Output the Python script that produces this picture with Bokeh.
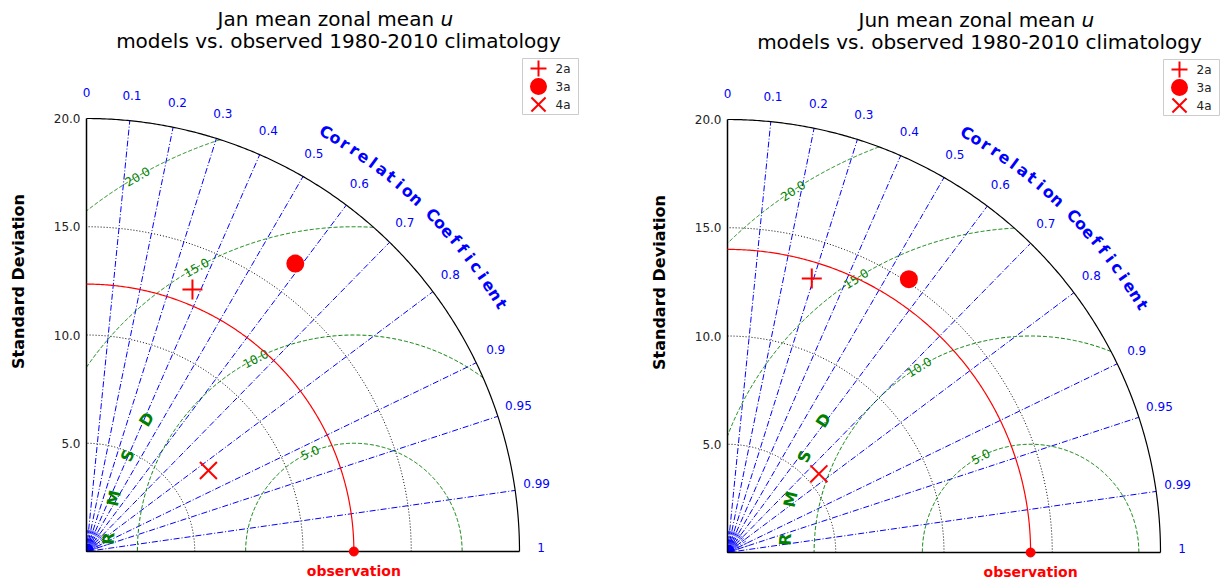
import numpy as np
from bokeh.plotting import figure
from bokeh.layouts import row
from bokeh.models import Range1d
from bokeh.core.properties import value
from bokeh.embed import file_html
from bokeh.resources import INLINE

# ---------------- data ----------------
months = ["Jan", "Jun"]
model_names = ["2a", "3a", "4a"]
model_markers = ["cross", "circle", "x"]
obs_std = [12.35, 14.0]
model_std_jan = [13.05, 16.43, 6.76]
model_corr_jan = [0.375, 0.587, 0.833]
model_std_jun = [13.24, 15.15, 5.57]
model_corr_jun = [0.294, 0.553, 0.758]
corr_ticks = [0.0, 0.1, 0.2, 0.3, 0.4, 0.5, 0.6, 0.7, 0.8, 0.9, 0.95, 0.99, 1.0]
corr_tick_labels = ["0", "0.1", "0.2", "0.3", "0.4", "0.5", "0.6", "0.7", "0.8",
                    "0.9", "0.95", "0.99", "1"]
std_ticks = [5.0, 10.0, 15.0, 20.0]
std_tick_labels = ["5.0", "10.0", "15.0", "20.0"]
rmsd_levels = [5.0, 10.0, 15.0, 20.0]
rmsd_level_labels = ["5.0", "10.0", "15.0", "20.0"]
std_max = 20.0

FONT = value("DejaVu Sans")
S = 433.0 / 20.0   # pixels per unit
H = 581
BLUE = "#0000ff"
GREEN = "#008000"
RED = "#ff0000"


def panel(month, width, ox, oy, s_obs, stds, corrs, label_angles):
    def X(px):
        return (px - ox) / S

    def Y(py):
        return (oy - py) / S

    p = figure(width=width, height=H, x_range=Range1d(X(0), X(width)),
               y_range=Range1d(Y(H), Y(0)), output_backend="svg",
               toolbar_location=None, x_axis_type=None, y_axis_type=None,
               min_border=0, outline_line_color=None)
    p.background_fill_color = "white"
    p.border_fill_color = "white"

    th = np.linspace(0, np.pi / 2, 300)

    # dense fan near origin
    for c in np.arange(0.01, 1.0, 0.01):
        a = np.arccos(c)
        p.line([0, 0.35 * np.cos(a)], [0, 0.35 * np.sin(a)], line_color=BLUE, line_width=0.6)
    for c in np.arange(0.05, 1.0, 0.05):
        a = np.arccos(c)
        p.line([0, 1.0 * np.cos(a)], [0, 1.0 * np.sin(a)], line_color=BLUE, line_width=0.7,
               line_dash="4 2 1 2")

    # correlation lines
    for c in corr_ticks[1:-1]:
        a = np.arccos(c)
        p.line([0, std_max * np.cos(a)], [0, std_max * np.sin(a)],
               line_color=BLUE, line_width=1, line_dash="6 2 1 2")

    # std dev dotted arcs
    for r in std_ticks[:-1]:
        p.line(r * np.cos(th), r * np.sin(th), line_color="black", line_width=1,
               line_dash="1 2")

    # RMSD circles
    for R, lab, ang in zip(rmsd_levels, rmsd_level_labels, label_angles):
        cmax = min(1.0, (std_max ** 2 - s_obs ** 2 - R ** 2) / (2 * s_obs * R))
        cmin = max(-1.0, -s_obs / R)
        phi = np.linspace(np.arccos(cmax), np.arccos(cmin), 400)
        p.line(s_obs + R * np.cos(phi), R * np.sin(phi), line_color=GREEN,
               line_width=1, line_dash="4 2")
        a = np.radians(ang)
        p.text(x=[s_obs + R * np.cos(a)], y=[R * np.sin(a)], text=[lab],
               text_font=FONT, text_font_size="12px", text_color=GREEN,
               text_align="center", text_baseline="middle",
               angle=ang - 90, angle_units="deg")

    # RMSD letters
    for ch, ang in zip("RMSD", [177.0, 167.5, 157.0, 147.5]):
        a = np.radians(ang)
        p.text(x=[s_obs + 11.35 * np.cos(a)], y=[11.35 * np.sin(a)], text=[ch],
               text_font=FONT, text_font_size="16px", text_font_style="bold",
               text_color=GREEN, text_align="center", text_baseline="middle",
               angle=ang - 90, angle_units="deg")

    # outer arc and axes
    p.line(std_max * np.cos(th), std_max * np.sin(th), line_color="black", line_width=1.2)
    p.line([0, 0], [0, std_max], line_color="black", line_width=1.5)
    p.line([0, std_max], [0, 0], line_color="black", line_width=1.5)

    # observation arc
    p.line(s_obs * np.cos(th), s_obs * np.sin(th), line_color=RED, line_width=1.2)

    # y tick labels
    p.text(x=[X(ox - 6)] * len(std_ticks), y=std_ticks, text=std_tick_labels,
           text_font=FONT, text_font_size="12px", text_color="#222222",
           text_align="right", text_baseline="middle")

    # correlation tick labels
    ang = np.arccos(np.array(corr_ticks))
    p.text(x=list(21.0 * np.cos(ang)), y=list(21.0 * np.sin(ang) + 0.18),
           text=corr_tick_labels, text_font=FONT, text_font_size="12px",
           text_color=BLUE, text_align="center", text_baseline="middle")

    # "Correlation Coefficient" along arc
    title_c = "Correlation Coefficient"
    angs = np.linspace(60.3, 30.8, len(title_c))
    xs, ys, ts, rs = [], [], [], []
    for ch, a in zip(title_c, angs):
        if ch == " ":
            continue
        xs.append(22.3 * np.cos(np.radians(a)))
        ys.append(22.3 * np.sin(np.radians(a)))
        ts.append(ch)
        rs.append(a - 90)
    p.text(x=xs, y=ys, text=ts, angle=rs, angle_units="deg", text_font=FONT,
           text_font_size="16px", text_font_style="bold", text_color=BLUE,
           text_align="center", text_baseline="middle")

    # y axis label
    p.text(x=[X(ox - 68)], y=[Y(oy - 270)], text=["Standard Deviation"], angle=90,
           angle_units="deg", text_font=FONT, text_font_size="16px",
           text_font_style="bold", text_color="black", text_align="center",
           text_baseline="middle")

    # observation
    p.scatter([s_obs], [0], marker="circle", size=9, fill_color=RED, line_color=RED)
    p.text(x=[s_obs], y=[Y(oy + 19)], text=["observation"], text_font=FONT,
           text_font_size="14px", text_font_style="bold", text_color=RED,
           text_align="center", text_baseline="middle")

    # models
    msizes = [20, 16, 24]
    for s, c, mk, ms in zip(stds, corrs, model_markers, msizes):
        a = np.arccos(c)
        p.scatter([s * np.cos(a)], [s * np.sin(a)], marker=mk, size=ms,
                  line_color=RED, fill_color=RED, line_width=2)

    # title
    p.text(x=[X(ox + 131)], y=[Y(oy - 533)], text=[month + " mean zonal mean"],
           text_font=FONT, text_font_size="20px", text_color="black",
           text_align="left", text_baseline="middle")
    p.text(x=[X(ox + 354)], y=[Y(oy - 533)], text=["u"], text_font=FONT,
           text_font_size="20px", text_font_style="italic", text_color="black",
           text_align="left", text_baseline="middle")
    p.text(x=[X(ox + 252)], y=[Y(oy - 511)], text=["models vs. observed 1980-2010 climatology"],
           text_font=FONT, text_font_size="20px", text_color="black",
           text_align="center", text_baseline="middle")

    # legend
    lx0 = ox + 436
    ly0 = oy - 493
    p.quad(left=[X(lx0)], right=[X(lx0 + 56)], top=[Y(ly0)], bottom=[Y(ly0 + 56)],
           fill_color="white", line_color="#cccccc", line_width=1)
    for i, (nm, mk, ms) in enumerate(zip(model_names, model_markers, [16, 15, 20])):
        yy = Y(ly0 + 10 + 18 * i)
        p.scatter([X(lx0 + 16)], [yy], marker=mk, size=ms, line_color=RED,
                  fill_color=RED, line_width=2)
        p.text(x=[X(lx0 + 33)], y=[yy], text=[nm], text_font=FONT,
               text_font_size="12px", text_color="#222222", text_align="left",
               text_baseline="middle")
    return p


p1 = panel(months[0], 640, 86, 551, obs_std[0], model_std_jan, model_corr_jan,
           [114.0, 117.0, 119.0, 120.0])
p2 = panel(months[1], 581, 87, 552, obs_std[1], model_std_jun, model_corr_jun,
           [117.5, 121.0, 122.5, 123.3])

layout = row(p1, p2)
open("out.html", "w").write(file_html(layout, INLINE))
